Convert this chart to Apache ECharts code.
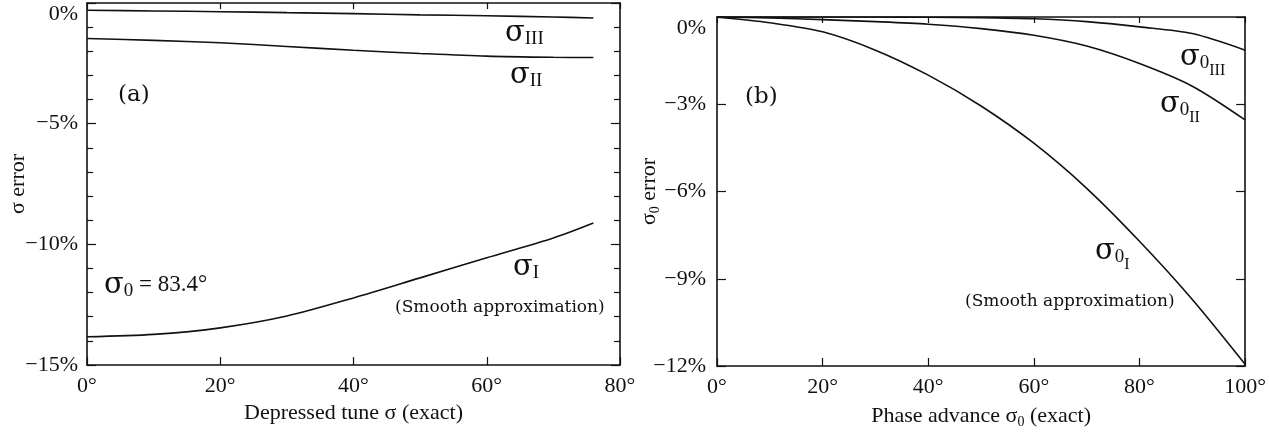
<!DOCTYPE html>
<html><head><meta charset="utf-8">
<script src="https://cdn.jsdelivr.net/npm/echarts@6/dist/echarts.min.js"></script>
<style>html,body{margin:0;padding:0;background:#fff}#c{width:1269px;height:436px}</style>
</head><body><div id="c"></div>
<script>
// Panel (a): depressed tune sigma (exact), degrees
const tuneA = [0, 10, 20, 30, 40, 50, 60, 70, 76];
const sigmaIII = [-0.30, -0.33, -0.36, -0.40, -0.44, -0.49, -0.53, -0.58, -0.62];
const sigmaII = [-1.47, -1.55, -1.65, -1.80, -1.96, -2.09, -2.20, -2.25, -2.26];
const sigmaI = [-13.83, -13.73, -13.46, -12.97, -12.22, -11.39, -10.56, -9.74, -9.12];
// Panel (b): phase advance sigma0 (exact), degrees
const phaseB = [0, 10, 20, 30, 40, 50, 60, 70, 80, 90, 100];
const sigma0I = [0, -0.20, -0.51, -1.14, -2.00, -3.06, -4.34, -5.89, -7.71, -9.71, -11.94];
const sigma0II = [0, -0.03, -0.09, -0.16, -0.25, -0.40, -0.63, -1.00, -1.60, -2.38, -3.54];
const sigma0III = [0, 0, 0, 0, -0.01, -0.02, -0.06, -0.16, -0.34, -0.57, -1.14];
// Tick settings
const xTicksA = {min: 0, max: 80, interval: 20};
const yTicksA = {min: -15, max: 0, interval: 5};
const xTicksB = {min: 0, max: 100, interval: 20};
const yTicksB = {min: -12, max: 0, interval: 3};

const FONT = 'Liberation Serif';
const FONT2 = 'DejaVu Serif';
const INK = '#111';
const pct = v => (v < 0 ? '\u2212' + Math.abs(v) : v) + '%';
const deg = v => v + '\u00b0';
const zip = (xs, ys) => xs.map((x, i) => [x, ys[i]]);

const subRich = {
  s: {fontFamily: FONT2, fontSize: 29, color: INK},
  a: {fontFamily: FONT, fontSize: 19, color: INK, padding: [12, 0, 0, 0]},
  b: {fontFamily: FONT, fontSize: 16, color: INK, padding: [28, 0, 0, 0]},
  t: {fontFamily: FONT, fontSize: 23, color: INK}
};
const nameRich = {
  n: {fontFamily: FONT, fontSize: 22, color: INK},
  a: {fontFamily: FONT, fontSize: 14, color: INK, padding: [12, 0, 0, 0]}
};

function xAx(gi, t, name) {
  return [
    {type: 'value', gridIndex: gi, position: 'bottom', min: t.min, max: t.max, interval: t.interval,
     axisLine: {onZero: false, lineStyle: {color: INK, width: 1.6}},
     axisTick: {inside: true, length: 8, lineStyle: {color: INK, width: 1.2}},
     axisLabel: {formatter: deg, fontFamily: FONT, fontSize: 22, color: INK, margin: 10},
     splitLine: {show: false},
     name: name, nameLocation: 'middle', nameGap: 37, nameMoveOverlap: false,
     nameTextStyle: {fontFamily: FONT, fontSize: 22, color: INK, rich: nameRich}},
    {type: 'value', gridIndex: gi, position: 'top', min: t.min, max: t.max, interval: t.interval,
     axisLine: {onZero: false, lineStyle: {color: INK, width: 1.6}},
     axisTick: {inside: true, length: 6, lineStyle: {color: INK, width: 1.2}},
     axisLabel: {show: false}, splitLine: {show: false}}
  ];
}
function yAx(gi, t, name, minor, margin, gap) {
  return [
    {type: 'value', gridIndex: gi, position: 'left', min: t.min, max: t.max, interval: t.interval,
     axisLine: {show: true, onZero: false, lineStyle: {color: INK, width: 1.6}},
     axisTick: {show: true, inside: true, length: 9, lineStyle: {color: INK, width: 1.2}},
     minorTick: {show: minor, splitNumber: 5, length: 6, lineStyle: {color: INK, width: 1.2}},
     axisLabel: {formatter: pct, fontFamily: FONT, fontSize: 22, color: INK, margin: margin,
                 verticalAlignMaxLabel: 'top'},
     splitLine: {show: false},
     name: name, nameLocation: 'middle', nameGap: gap, nameRotate: 90, nameMoveOverlap: false,
     nameTextStyle: {fontFamily: FONT, fontSize: 22, color: INK, rich: nameRich}},
    {type: 'value', gridIndex: gi, position: 'right', min: t.min, max: t.max, interval: t.interval,
     axisLine: {show: true, onZero: false, lineStyle: {color: INK, width: 1.6}},
     axisTick: {show: true, inside: true, length: 9, lineStyle: {color: INK, width: 1.2}},
     minorTick: {show: minor, splitNumber: 5, length: 6, lineStyle: {color: INK, width: 1.2}},
     axisLabel: {show: false}, splitLine: {show: false}}
  ];
}
function line(xi, yi, xs, ys) {
  return {type: 'line', xAxisIndex: xi, yAxisIndex: yi, data: zip(xs, ys), smooth: 0.3,
          showSymbol: false, silent: true, lineStyle: {color: INK, width: 1.6}};
}
function label(x, y, text) {
  return {type: 'text', x: x, y: y, silent: true,
          style: {text: text, rich: subRich, verticalAlign: 'middle', align: 'left', fill: INK}};
}
function plain(x, y, text, size) {
  return {type: 'text', x: x, y: y, silent: true,
          style: {text: text, fontFamily: FONT2, fontSize: size, verticalAlign: 'middle', align: 'left', fill: INK}};
}

const chart = echarts.init(document.getElementById('c'));
chart.setOption({
  animation: false,
  backgroundColor: '#fff',
  grid: [
    {left: 87, right: 649, top: 3, bottom: 71},
    {left: 717, right: 17, top: 17, bottom: 70}
  ],
  xAxis: [...xAx(0, xTicksA, '{n|Depressed tune \u03c3 (exact)}'),
          ...xAx(1, xTicksB, '{n|Phase advance \u03c3}{a|0}{n| (exact)}')],
  yAxis: [...yAx(0, yTicksA, '{n|\u03c3 error}', true, 9, 58),
          ...yAx(1, yTicksB, '{n|\u03c3}{a|0}{n| error}', false, 11, 55)],
  series: [
    line(0, 0, tuneA, sigmaIII),
    line(0, 0, tuneA, sigmaII),
    line(0, 0, tuneA, sigmaI),
    line(2, 2, phaseB, sigma0I),
    line(2, 2, phaseB, sigma0II),
    line(2, 2, phaseB, sigma0III)
  ],
  graphic: [
    label(505, 33, '{s|\u03c3}{a|III}'),
    label(510, 75, '{s|\u03c3}{a|II}'),
    label(513, 267, '{s|\u03c3}{a|I}'),
    label(104, 285, '{s|\u03c3}{a|0}{t| = 83.4\u00b0}'),
    plain(118, 95, '(a)', 23),
    plain(395, 308, '(Smooth approximation)', 17),
    plain(745, 97, '(b)', 23),
    label(1180, 57, '{s|\u03c3}{a|0}{b|III}'),
    label(1160, 104, '{s|\u03c3}{a|0}{b|II}'),
    label(1095, 251, '{s|\u03c3}{a|0}{b|I}'),
    plain(965, 302, '(Smooth approximation)', 17)
  ]
});
</script></body></html>
